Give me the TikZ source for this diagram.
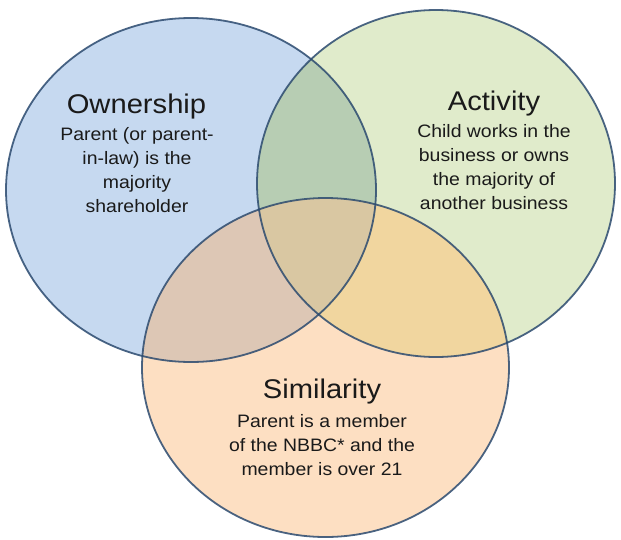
\documentclass[tikz,border=0pt]{standalone}
\usepackage{fontspec}
\setmainfont{Liberation Sans}[FakeStretch=1.08]
\usetikzlibrary{positioning}

\definecolor{ownfill}{HTML}{C6D9F0}
\definecolor{actfill}{HTML}{E0EBCB}
\definecolor{simfill}{HTML}{FDDFC2}
\definecolor{ownact}{HTML}{B7CDB3}
\definecolor{ownsim}{HTML}{DDC7B5}
\definecolor{actsim}{HTML}{F1D69F}
\definecolor{allthree}{HTML}{D9C7A2}
\definecolor{setedge}{HTML}{2B4A6F}
\definecolor{settextcol}{HTML}{1A1A1A}

\tikzset{
  ownsize/.style={x radius=185, y radius=172},
  actsize/.style={x radius=179, y radius=173.5},
  simsize/.style={x radius=183.5, y radius=169.5},
  setline/.style={draw=setedge, line width=1.8pt, draw opacity=0.85},
  settitle/.style={font=\fontsize{27}{30}\selectfont, text=settextcol, inner sep=0pt, anchor=base},
  settext/.style={font=\fontsize{18}{24}\selectfont, text=settextcol, align=center, inner sep=0pt, anchor=north},
}

\begin{document}
\begin{tikzpicture}[x=1pt, y=-1pt]
  \useasboundingbox (0,0) rectangle (621,539);

  \coordinate (own) at (191,190);
  \coordinate (act) at (436,183.5);
  \coordinate (sim) at (325.5,367.5);

  % the three sets
  \fill[ownfill] (own) ellipse [ownsize];
  \fill[actfill] (act) ellipse [actsize];
  \fill[simfill] (sim) ellipse [simsize];

  % overlaps
  \begin{scope}
    \clip (own) ellipse [ownsize];
    \fill[ownact] (act) ellipse [actsize];
    \fill[ownsim] (sim) ellipse [simsize];
  \end{scope}
  \begin{scope}
    \clip (act) ellipse [actsize];
    \fill[actsim] (sim) ellipse [simsize];
    \clip (own) ellipse [ownsize];
    \fill[allthree] (sim) ellipse [simsize];
  \end{scope}

  \draw[setline] (own) ellipse [ownsize];
  \draw[setline] (act) ellipse [actsize];
  \draw[setline] (sim) ellipse [simsize];

  % labels
  \node[settitle] (ownT) at (136.5,113) {Ownership};
  \node[settext] (ownB) at (137,127) {Parent (or parent-\\in-law) is the\\majority\\shareholder};

  \node[settitle] (actT) at (494,110) {Activity};
  \node[settext] (actB) at (494,124) {Child works in the\\business or owns\\the majority of\\another business};

  \node[settitle] (simT) at (322,398) {Similarity};
  \node[settext] (simB) at (322,414) {Parent is a member\\of the NBBC* and the\\member is over 21};
\end{tikzpicture}
\end{document}
